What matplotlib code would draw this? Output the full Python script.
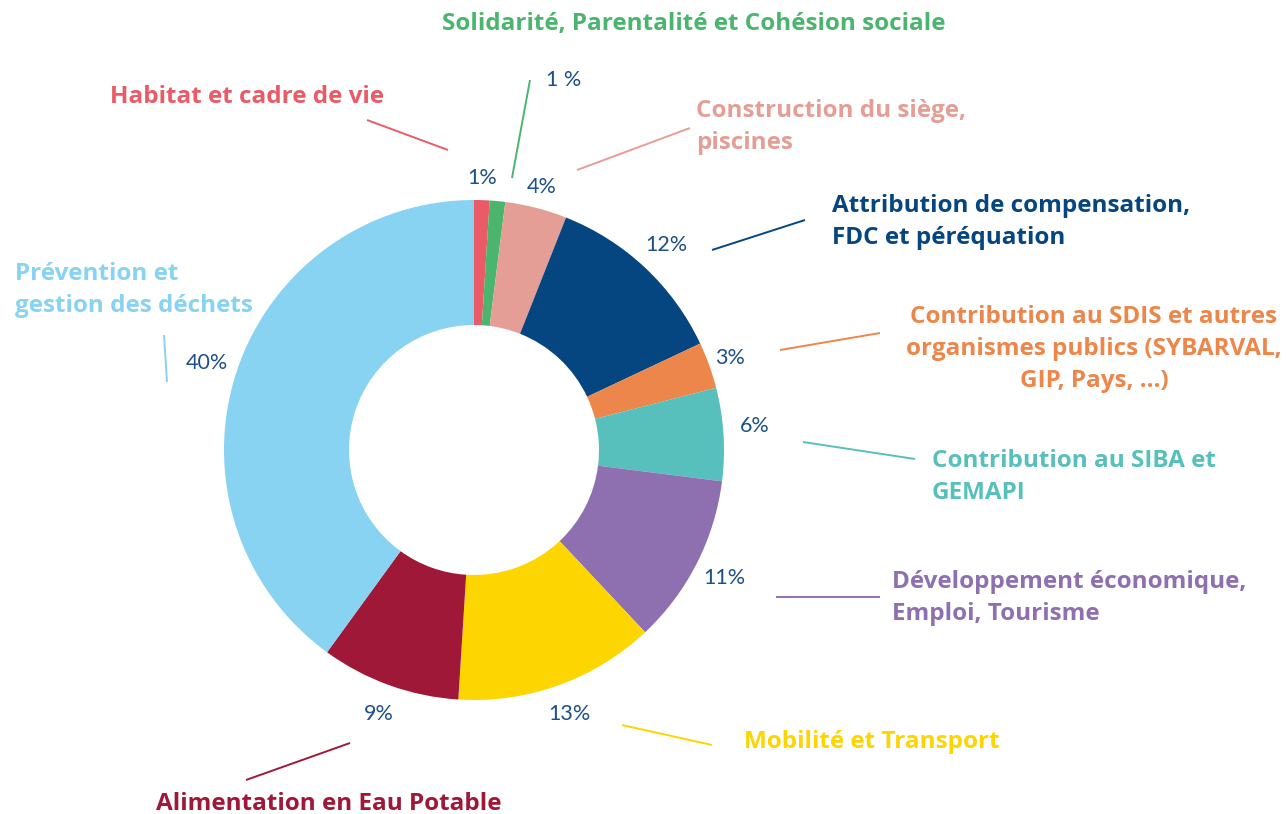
import matplotlib
matplotlib.use("Agg")
import matplotlib.pyplot as plt
import numpy as np

# donnees (sens horaire depuis le haut)
categories = [
    "Habitat et cadre de vie",
    "Solidarité, Parentalité et Cohésion sociale",
    "Construction du siège,\npiscines",
    "Attribution de compensation,\nFDC et péréquation",
    "Contribution au SDIS et autres\norganismes publics (SYBARVAL,\nGIP, Pays, …)",
    "Contribution au SIBA et\nGEMAPI",
    "Développement économique,\nEmploi, Tourisme",
    "Mobilité et Transport",
    "Alimentation en Eau Potable",
    "Prévention et\ngestion des déchets",
]
valeurs = [1, 1, 4, 12, 3, 6, 11, 13, 9, 40]
pct_labels = ["1%", "1 %", "4%", "12%", "3%", "6%", "11%", "13%", "9%", "40%"]
couleurs = ["#E85B67", "#4BB56E", "#E49E96", "#054680", "#EC864A",
            "#57C0BC", "#8E70B0", "#FDD500", "#A01838", "#87D3F1"]

# mise en page (pixels, y vers le bas)
W, H = 1286, 814
centre = (474, 450)
R = 250
# position des libelles : x, y, alignement horizontal
pos_libelles = [
    (110, 97, "left"),
    (694, 24, "center"),
    (696, 127, "left"),
    (832, 222, "left"),
    (1094, 349, "center"),
    (932, 477, "left"),
    (892, 598, "left"),
    (744, 742, "left"),
    (156, 804, "left"),
    (15, 290, "left"),
]
# traits de rappel : x1, y1, x2, y2
traits = [
    (367, 120, 448, 150),
    (512, 178, 530, 80),
    (577, 170, 690, 128),
    (712, 250, 805, 220),
    (780, 350, 880, 333),
    (803, 442, 915, 459),
    (776, 597, 880, 597),
    (622, 725, 712, 745),
    (350, 743, 246, 780),
    (164, 335, 167, 382),
]

fig = plt.figure(figsize=(W / 100, H / 100), dpi=100)
ax = fig.add_axes([0, 0, 1, 1])

wedges, _ = ax.pie(valeurs, colors=couleurs, startangle=-90, counterclock=True,
                   radius=R, center=centre, frame=True,
                   wedgeprops=dict(width=R / 2, edgecolor="none", linewidth=0))
ax.set_xlim(0, W)
ax.set_ylim(H, 0)
ax.set_aspect("equal")
ax.axis("off")

# pourcentages
for i, w in enumerate(wedges):
    a = np.deg2rad((w.theta1 + w.theta2) / 2)
    r = 281 if valeurs[i] > 5 else 272
    x = centre[0] + r * np.cos(a)
    y = centre[1] + r * np.sin(a)
    if i == 1:
        x, y = 564, 80
    if i == 5:
        y -= 6
    ax.text(x, y, pct_labels[i], ha="center", va="center", fontsize=15.5,
            family="Lato", color="#1D4F8A")

# libelles
for (x, y, ha), txt, c in zip(pos_libelles, categories, couleurs):
    ax.text(x, y, txt, ha=ha, va="center", fontsize=17.5, family="Open Sans",
            fontweight="bold", color=c, linespacing=1.46, multialignment=ha)

for (x1, y1, x2, y2), c in zip(traits, couleurs):
    ax.plot([x1, x2], [y1, y2], color=c, lw=1.4, solid_capstyle="butt")

fig.savefig("out.png", dpi=100)
